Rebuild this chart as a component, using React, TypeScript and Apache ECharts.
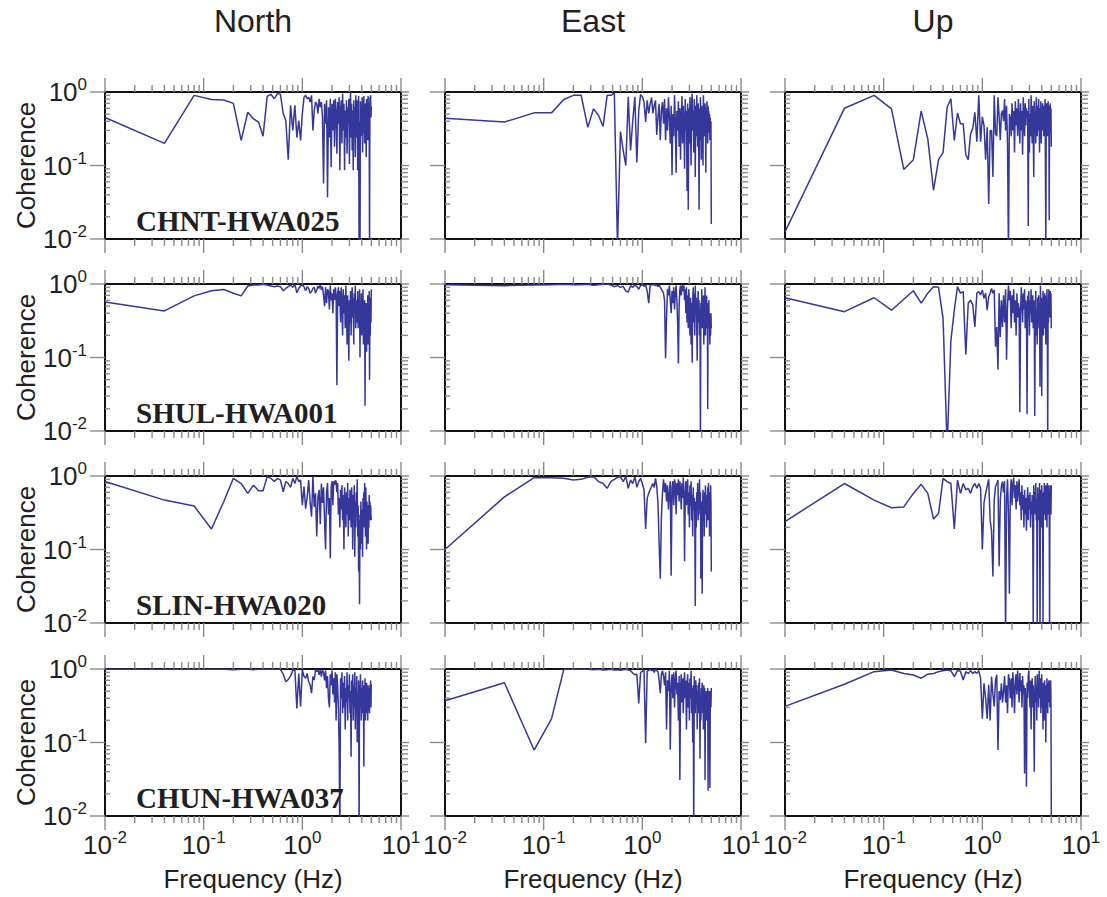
import React, { useEffect, useRef } from "react";
import * as echarts from "echarts";

// Frequencies (Hz) shared by all panels
const FREQ = [
  0.01,
  0.04, 0.08, 0.12, 0.16, 0.2, 0.24, 0.28, 0.32, 0.36, 0.4,
  0.44, 0.48, 0.52, 0.56, 0.6, 0.64, 0.68, 0.72, 0.76, 0.8,
  0.84, 0.88, 0.92, 0.96, 1.0, 1.04, 1.08, 1.12, 1.16, 1.2,
  1.24, 1.28, 1.32, 1.36, 1.4, 1.44, 1.48, 1.52, 1.56, 1.6,
  1.64, 1.68, 1.72, 1.76, 1.8, 1.84, 1.88, 1.92, 1.96, 2.0,
  2.04, 2.08, 2.12, 2.16, 2.2, 2.24, 2.28, 2.32, 2.36, 2.4,
  2.44, 2.48, 2.52, 2.56, 2.6, 2.64, 2.68, 2.72, 2.76, 2.8,
  2.84, 2.88, 2.92, 2.96, 3.0, 3.04, 3.08, 3.12, 3.16, 3.2,
  3.24, 3.28, 3.32, 3.36, 3.4, 3.44, 3.48, 3.52, 3.56, 3.6,
  3.64, 3.68, 3.72, 3.76, 3.8, 3.84, 3.88, 3.92, 3.96, 4.0,
  4.04, 4.08, 4.12, 4.16, 4.2, 4.24, 4.28, 4.32, 4.36, 4.4,
  4.44, 4.48, 4.52, 4.56, 4.6, 4.64, 4.68, 4.72, 4.76, 4.8,
  4.84, 4.88, 4.92, 4.96, 5.0,
];

const CHNT_N = [
  0.45,
  0.2, 0.9, 0.79, 0.78, 0.7, 0.22, 0.53, 0.43, 0.39, 0.25,
  0.87, 0.93, 0.81, 0.95, 0.93, 0.51, 0.41, 0.12, 0.66, 0.3,
  0.66, 0.24, 0.41, 0.22, 0.51, 0.85, 0.9, 0.81, 0.85, 0.73,
  0.9, 0.3, 0.56, 0.73, 0.69, 0.51, 0.81, 0.62, 0.73, 0.46,
  0.057, 0.69, 0.37, 0.77, 0.037, 0.62, 0.24, 0.81, 0.095, 0.69,
  0.3, 0.77, 0.18, 0.81, 0.51, 0.145, 0.73, 0.37, 0.85, 0.086,
  0.56, 0.77, 0.2, 0.95, 0.3, 0.69, 0.086, 0.56, 0.24, 0.77,
  0.145, 0.62, 0.37, 0.81, 0.105, 0.51, 0.98, 0.24, 0.69, 0.16,
  0.56, 0.086, 0.77, 0.3, 0.62, 0.13, 0.9, 0.41, 0.24, 0.77,
  0.086, 0.56, 0.88, 0.006, 0.4, 0.006, 0.75, 0.25, 0.65, 0.3,
  0.85, 0.15, 0.6, 0.28, 0.88, 0.45, 0.2, 0.7, 0.35, 0.55,
  0.13, 0.8, 0.32, 0.6, 0.22, 0.88, 0.42, 0.7, 0.35, 0.006,
  0.85, 0.55, 0.9, 0.45, 0.63,
];
const CHNT_E = [
  0.44,
  0.39, 0.52, 0.52, 0.79, 0.9, 0.9, 0.33, 0.59, 0.48, 0.34,
  0.9, 0.9, 0.97, 0.008, 0.29, 0.16, 0.1, 0.86, 0.16, 0.41,
  0.86, 0.11, 0.56, 0.92, 0.87, 0.73, 0.39, 0.77, 0.51, 0.69,
  0.84, 0.51, 0.66, 0.77, 0.26, 0.46, 0.69, 0.22, 0.56, 0.73,
  0.37, 0.8, 0.22, 0.6, 0.3, 0.85, 0.45, 0.2, 0.65, 0.074,
  0.5, 0.25, 0.9, 0.4, 0.08, 0.55, 0.3, 0.75, 0.18, 0.6,
  0.12, 0.45, 0.88, 0.2, 0.65, 0.35, 0.09, 0.8, 0.3, 0.55,
  0.045, 0.7, 0.025, 0.6, 0.2, 0.85, 0.35, 0.1, 0.75, 0.95,
  0.3, 0.55, 0.15, 0.8, 0.4, 0.07, 0.65, 0.25, 0.9, 0.45,
  0.18, 0.7, 0.3, 0.025, 0.6, 0.22, 0.85, 0.4, 0.12, 0.65,
  0.3, 0.5, 0.1, 0.9, 0.35, 0.55, 0.25, 0.7, 0.4, 0.08,
  0.6, 0.3, 0.75, 0.45, 0.2, 0.65, 0.35, 0.55, 0.28, 0.5,
  0.22, 0.45, 0.3, 0.4, 0.016,
];
const CHNT_U = [
  0.0125,
  0.6, 0.9, 0.59, 0.088, 0.12, 0.55, 0.23, 0.046, 0.12, 0.15,
  0.62, 0.81, 0.22, 0.52, 0.37, 0.37, 0.14, 0.12, 0.27, 0.32,
  0.53, 0.21, 0.9, 0.21, 0.46, 0.35, 0.12, 0.33, 0.03, 0.3,
  0.3, 0.07, 0.9, 0.27, 0.25, 0.85, 0.46, 0.22, 0.51, 0.56,
  0.4, 0.8, 0.3, 0.65, 0.2, 0.006, 0.5, 0.45, 0.25, 0.7,
  0.3, 0.55, 0.15, 0.75, 0.35, 0.6, 0.25, 0.8, 0.4, 0.2,
  0.7, 0.3, 0.55, 0.14, 0.85, 0.45, 0.25, 0.7, 0.35, 0.6,
  0.45, 0.55, 0.015, 0.8, 0.15, 0.5, 0.25, 0.9, 0.4, 0.2,
  0.65, 0.3, 0.07, 0.75, 0.35, 0.55, 0.2, 0.85, 0.45, 0.25,
  0.65, 0.3, 0.8, 0.4, 0.15, 0.6, 0.35, 0.75, 0.2, 0.5,
  0.3, 0.7, 0.5, 0.45, 0.25, 0.65, 0.35, 0.8, 0.1, 0.006,
  0.3, 0.7, 0.4, 0.6, 0.25, 0.75, 0.4, 0.65, 0.018, 0.55,
  0.28, 0.7, 0.4, 0.6, 0.18,
];
const SHUL_N = [
  0.57,
  0.43, 0.69, 0.81, 0.84, 0.75, 0.69, 0.94, 0.97, 0.97, 0.99,
  0.97, 0.94, 0.92, 0.94, 0.92, 0.81, 0.87, 0.92, 0.97, 0.9,
  0.99, 0.76, 0.87, 0.94, 0.97, 0.92, 0.81, 0.92, 0.87, 0.75,
  0.79, 0.87, 0.9, 0.75, 0.83, 0.94, 0.87, 0.97, 0.83, 0.92,
  0.7, 0.5, 0.9, 0.55, 0.85, 0.8, 0.45, 0.95, 0.6, 0.75,
  0.4, 0.85, 0.6, 0.9, 0.7, 0.042, 0.75, 0.9, 0.5, 0.8,
  0.3, 0.9, 0.55, 0.2, 0.85, 0.4, 0.7, 0.25, 0.95, 0.5,
  0.15, 0.7, 0.35, 0.09, 0.6, 0.3, 0.8, 0.2, 0.55, 0.9,
  0.35, 0.65, 0.15, 0.75, 0.45, 0.95, 0.25, 0.6, 0.6, 0.3,
  0.8, 0.25, 0.6, 0.4, 0.85, 0.1, 0.5, 0.3, 0.75, 0.2,
  0.55, 0.35, 0.85, 0.15, 0.45, 0.25, 0.6, 0.022, 0.4, 0.2,
  0.55, 0.12, 0.5, 0.3, 0.7, 0.15, 0.45, 0.25, 0.8, 0.05,
  0.4, 0.2, 0.65, 0.3, 0.85,
];
const SHUL_E = [
  0.98,
  0.95, 0.97, 0.98, 0.99, 0.98, 0.98, 0.99, 0.96, 0.98, 0.99,
  1.0, 0.97, 0.92, 0.95, 0.9, 0.93, 0.8, 0.78, 0.95, 0.9,
  0.97, 0.92, 0.85, 0.95, 0.98, 0.93, 0.97, 0.8, 0.55, 0.95,
  0.98, 0.97, 0.99, 0.95, 0.98, 0.92, 0.97, 0.9, 0.85, 0.8,
  0.75, 0.6, 0.098, 0.35, 0.85, 0.7, 0.95, 0.6, 0.4, 0.8,
  0.55, 0.9, 0.45, 0.75, 0.95, 0.6, 0.3, 0.083, 0.5, 0.85,
  0.95, 0.7, 0.9, 0.98, 0.8, 0.95, 0.6, 0.85, 0.4, 0.9,
  0.3, 0.7, 0.25, 0.85, 0.45, 0.2, 0.65, 0.15, 0.55, 0.085,
  0.6, 0.9, 0.3, 0.75, 0.2, 0.95, 0.4, 0.65, 0.25, 0.09,
  0.5, 0.8, 0.3, 0.6, 0.2, 0.45, 0.006, 0.55, 0.3, 0.85,
  0.25, 0.6, 0.35, 0.7, 0.15, 0.5, 0.4, 0.9, 0.2, 0.6,
  0.3, 0.7, 0.25, 0.55, 0.02, 0.45, 0.3, 0.6, 0.25, 0.4,
  0.15, 0.35, 0.2, 0.4, 0.25,
];
const SHUL_U = [
  0.65,
  0.42, 0.65, 0.44, 0.62, 0.81, 0.55, 0.75, 0.92, 0.9, 0.34,
  0.006, 0.17, 0.44, 0.92, 0.75, 0.79, 0.11, 0.55, 0.6, 0.52,
  0.26, 0.75, 0.79, 0.71, 0.83, 0.64, 0.75, 0.44, 0.67, 0.75,
  0.87, 0.75, 0.83, 0.14, 0.26, 0.068, 0.75, 0.19, 0.6, 0.26,
  0.7, 0.3, 0.85, 0.093, 0.5, 0.95, 0.6, 0.8, 0.25, 0.7,
  0.4, 0.85, 0.3, 0.6, 0.2, 0.75, 0.35, 0.55, 0.45, 0.018,
  0.4, 0.9, 0.55, 0.3, 0.75, 0.45, 0.85, 0.25, 0.6, 0.5,
  0.017, 0.7, 0.35, 0.8, 0.2, 0.6, 0.4, 0.85, 0.3, 0.55,
  0.7, 0.25, 0.6, 0.4, 0.016, 0.5, 0.8, 0.2, 0.45, 0.15,
  0.65, 0.3, 0.7, 0.25, 0.55, 0.04, 0.95, 0.4, 0.65, 0.03,
  0.55, 0.3, 0.8, 0.2, 0.6, 0.35, 0.75, 0.25, 0.55, 0.15,
  0.7, 0.3, 0.85, 0.4, 0.006, 0.6, 0.3, 0.85, 0.45, 0.7,
  0.35, 0.8, 0.5, 0.75, 0.25,
];
const SLIN_N = [
  0.84,
  0.47, 0.39, 0.19, 0.45, 0.93, 0.79, 0.58, 0.75, 0.63, 0.63,
  0.98, 0.93, 0.84, 0.93, 0.88, 0.61, 0.84, 0.79, 0.7, 0.93,
  0.79, 0.98, 0.84, 0.88, 0.4, 0.72, 0.36, 0.52, 0.88, 0.43,
  0.28, 0.98, 0.38, 0.58, 0.15, 0.52, 0.65, 0.22, 0.79, 0.43,
  0.7, 0.25, 0.1, 0.6, 0.8, 0.3, 0.5, 0.076, 0.7, 0.85,
  0.4, 0.85, 0.75, 0.87, 0.85, 0.6, 0.8, 0.3, 0.5, 0.2,
  0.65, 0.35, 0.75, 0.25, 0.55, 0.1, 0.7, 0.4, 0.2, 0.6,
  0.3, 0.8, 0.15, 0.5, 0.25, 0.65, 0.35, 0.2, 0.7, 0.4,
  0.1, 0.55, 0.25, 0.75, 0.08, 0.45, 0.2, 0.6, 0.3, 0.9,
  0.15, 0.4, 0.05, 0.25, 0.018, 0.3, 0.1, 0.45, 0.2, 0.12,
  0.35, 0.08, 0.5, 0.25, 0.6, 0.2, 0.8, 0.4, 0.15, 0.7,
  0.3, 0.1, 0.45, 0.25, 0.35, 0.12, 0.4, 0.2, 0.55, 0.3,
  0.45, 0.25, 0.4, 0.3, 0.25,
];
const SLIN_E = [
  0.1,
  0.52, 0.95, 0.95, 0.93, 0.88, 0.9, 0.96, 0.98, 0.84, 0.79,
  0.68, 0.84, 0.9, 0.96, 0.98, 0.84, 0.98, 0.68, 0.88, 0.79,
  0.98, 0.7, 0.84, 0.93, 0.79, 0.65, 0.19, 0.5, 0.58, 0.65,
  0.72, 0.79, 0.7, 0.93, 0.72, 0.43, 0.12, 0.04, 0.28, 0.58,
  0.9, 0.6, 0.8, 0.45, 0.75, 0.35, 0.6, 0.85, 0.044, 0.7,
  0.85, 0.4, 0.9, 0.75, 0.3, 0.8, 0.55, 0.9, 0.45, 0.85,
  0.65, 0.35, 0.8, 0.5, 0.95, 0.6, 0.069, 0.5, 0.85, 0.4,
  0.7, 0.9, 0.3, 0.6, 0.2, 0.75, 0.4, 0.85, 0.25, 0.55,
  0.15, 0.7, 0.35, 0.5, 0.3, 0.017, 0.45, 0.2, 0.6, 0.35,
  0.8, 0.25, 0.55, 0.4, 0.9, 0.3, 0.6, 0.04, 0.45, 0.2,
  0.025, 0.35, 0.65, 0.25, 0.5, 0.15, 0.6, 0.3, 0.75, 0.35,
  0.55, 0.2, 0.45, 0.3, 0.7, 0.25, 0.8, 0.4, 0.6, 0.15,
  0.5, 0.3, 0.75, 0.45, 0.05,
];
const SLIN_U = [
  0.24,
  0.79, 0.47, 0.37, 0.38, 0.58, 0.77, 0.58, 0.26, 0.31, 0.93,
  0.84, 0.79, 0.19, 0.88, 0.58, 0.79, 0.65, 0.68, 0.58, 0.72,
  0.79, 0.68, 0.79, 0.68, 0.1, 0.43, 0.58, 0.72, 0.9, 0.25,
  0.18, 0.043, 0.47, 0.72, 0.79, 0.88, 0.059, 0.47, 0.72, 0.84,
  0.6, 0.85, 0.006, 0.5, 0.9, 0.3, 0.025, 0.55, 0.9, 0.4,
  0.8, 0.95, 0.5, 0.75, 0.35, 0.85, 0.45, 0.7, 0.9, 0.4,
  0.6, 0.25, 0.75, 0.35, 0.55, 0.2, 0.65, 0.3, 0.5, 0.18,
  0.45, 0.7, 0.25, 0.55, 0.35, 0.6, 0.2, 0.45, 0.3, 0.55,
  0.25, 0.009, 0.75, 0.4, 0.6, 0.3, 0.8, 0.25, 0.5, 0.006,
  0.7, 0.35, 0.55, 0.25, 0.8, 0.006, 0.4, 0.65, 0.2, 0.75,
  0.35, 0.55, 0.01, 0.6, 0.3, 0.8, 0.4, 0.6, 0.25, 0.75,
  0.35, 0.65, 0.2, 0.8, 0.4, 0.55, 0.3, 0.75, 0.45, 0.006,
  0.6, 0.35, 0.75, 0.3, 0.75,
];
const CHUN_N = [
  0.99,
  0.99, 0.99, 0.99, 0.99, 0.98, 0.99, 0.99, 0.98, 0.99, 0.99,
  0.99, 0.99, 0.99, 0.99, 0.99, 0.85, 0.67, 0.72, 0.8, 0.95,
  0.99, 0.29, 0.87, 0.31, 0.97, 0.79, 0.75, 0.87, 0.67, 0.61,
  0.47, 0.79, 0.71, 0.97, 0.92, 0.97, 0.83, 0.97, 0.79, 0.97,
  0.9, 0.7, 0.95, 0.55, 0.8, 0.4, 0.3, 0.85, 0.6, 0.95,
  0.45, 0.75, 0.35, 0.9, 0.2, 0.85, 0.6, 0.3, 0.088, 0.005,
  0.75, 0.4, 0.9, 0.25, 0.65, 0.3, 0.8, 0.15, 0.55, 0.35,
  0.9, 0.2, 0.6, 0.4, 0.85, 0.25, 0.5, 0.064, 0.7, 0.35,
  0.85, 0.2, 0.6, 0.3, 0.9, 0.15, 0.55, 0.35, 0.8, 0.1,
  0.45, 0.25, 0.7, 0.005, 0.6, 0.3, 0.85, 0.4, 0.2, 0.55,
  0.25, 0.7, 0.35, 0.6, 0.047, 0.5, 0.3, 0.75, 0.2, 0.55,
  0.3, 0.65, 0.25, 0.5, 0.2, 0.6, 0.35, 0.55, 0.3, 0.25,
  0.6, 0.35, 0.7, 0.3, 0.62,
];
const CHUN_E = [
  0.37,
  0.65, 0.079, 0.21, 0.99, 0.99, 0.99, 0.99, 0.98, 0.99, 0.97,
  0.98, 0.99, 0.97, 0.98, 0.96, 0.98, 0.99, 0.97, 0.95, 0.88,
  0.84, 0.85, 0.34, 0.9, 0.93, 0.98, 0.098, 0.92, 0.96, 0.99,
  0.95, 0.97, 0.9, 0.99, 0.95, 0.92, 0.7, 0.47, 0.85, 0.95,
  0.8, 0.6, 0.9, 0.15, 0.7, 0.5, 0.95, 0.08, 0.6, 0.85,
  0.4, 0.9, 0.3, 0.75, 0.95, 0.45, 0.65, 0.2, 0.8, 0.031,
  0.55, 0.85, 0.35, 0.75, 0.25, 0.6, 0.9, 0.4, 0.7, 0.15,
  0.55, 0.85, 0.3, 0.65, 0.2, 0.75, 0.4, 0.95, 0.25, 0.55,
  0.1, 0.6, 0.005, 0.8, 0.45, 0.25, 0.7, 0.35, 0.6, 0.15,
  0.5, 0.25, 0.65, 0.4, 0.75, 0.06, 0.45, 0.2, 0.55, 0.3,
  0.65, 0.25, 0.5, 0.15, 0.6, 0.3, 0.55, 0.031, 0.4, 0.25,
  0.5, 0.2, 0.45, 0.3, 0.55, 0.022, 0.4, 0.2, 0.5, 0.3,
  0.024, 0.35, 0.5, 0.3, 0.55,
];
const CHUN_U = [
  0.31,
  0.62, 0.92, 0.97, 0.87, 0.83, 0.75, 0.85, 0.87, 0.92, 0.95,
  0.97, 0.95, 0.79, 0.95, 0.93, 0.71, 0.92, 0.87, 0.95, 0.87,
  0.92, 0.87, 0.95, 0.75, 0.21, 0.64, 0.4, 0.21, 0.61, 0.2,
  0.79, 0.45, 0.31, 0.71, 0.84, 0.079, 0.5, 0.38, 0.64, 0.35,
  0.5, 0.8, 0.35, 0.6, 0.25, 0.85, 0.7, 0.4, 0.75, 0.3,
  0.9, 0.55, 0.25, 0.7, 0.85, 0.45, 0.95, 0.6, 0.35, 0.88,
  0.5, 0.7, 0.3, 0.8, 0.45, 0.6, 0.038, 0.55, 0.3, 0.025,
  0.65, 0.4, 0.8, 0.95, 0.55, 0.3, 0.7, 0.15, 0.5, 0.75,
  0.3, 0.6, 0.25, 0.04, 0.45, 0.8, 0.35, 0.6, 0.2, 0.85,
  0.5, 0.7, 0.3, 0.95, 0.55, 0.4, 0.75, 0.25, 0.6, 0.85,
  0.3, 0.55, 0.15, 0.65, 0.4, 0.2, 0.7, 0.35, 0.55, 0.1,
  0.6, 0.3, 0.75, 0.45, 0.25, 0.65, 0.35, 0.7, 0.4, 0.6,
  0.3, 0.65, 0.7, 0.4, 0.01,
];

const STATIONS = ["CHNT-HWA025", "SHUL-HWA001", "SLIN-HWA020", "CHUN-HWA037"];
const COMPONENTS = ["North", "East", "Up"];
const PANELS = [
  [CHNT_N, CHNT_E, CHNT_U],
  [SHUL_N, SHUL_E, SHUL_U],
  [SLIN_N, SLIN_E, SLIN_U],
  [CHUN_N, CHUN_E, CHUN_U],
];
const X_MIN = 0.01;
const X_MAX = 10;
const Y_MIN = 0.01;
const Y_MAX = 1;

// layout
const GRID_LEFT = [105, 445, 785];
const GRID_TOP = [92, 284, 476, 669];
const GRID_W = 296;
const GRID_H = 147;

const SANS = '"Liberation Sans", Arial, Helvetica, sans-serif';
const SERIF = '"Liberation Serif", "Times New Roman", serif';
const TEXT = "#231f20";
const LINE = "#35389a";
const TICK = "#8a8a8a";

const powLabel = (v: number) => {
  const e = Math.round(Math.log10(v));
  return `{b|10}{s|${e}}`;
};
const rich = {
  b: { fontSize: 26, fontFamily: SANS, color: TEXT, lineHeight: 32 },
  s: { fontSize: 17, fontFamily: SANS, color: TEXT, lineHeight: 17, verticalAlign: "top" },
};

function tickRender(params: any, api: any) {
  const tl = api.coord([X_MIN, Y_MAX]);
  const br = api.coord([X_MAX, Y_MIN]);
  const children: any[] = [];
  const ln = (x1: number, y1: number, x2: number, y2: number) =>
    children.push({
      type: "line",
      shape: { x1, y1, x2, y2 },
      style: { stroke: TICK, lineWidth: 1.4 },
    });
  for (let e = -2; e <= 1; e++) {
    for (let m = 1; m <= 9; m++) {
      const v = m * Math.pow(10, e);
      if (v > X_MAX * 1.0001) break;
      const x = api.coord([v, Y_MAX])[0];
      const len = m === 1 ? 14 : 7;
      ln(x, br[1], x, br[1] + len);
      ln(x, tl[1], x, tl[1] - len);
    }
  }
  for (let e = -2; e <= 0; e++) {
    for (let m = 1; m <= 9; m++) {
      const v = m * Math.pow(10, e);
      if (v > Y_MAX * 1.0001) break;
      const y = api.coord([X_MIN, v])[1];
      if (m === 1) {
        ln(tl[0] - 15, y, tl[0], y);
        ln(br[0], y, br[0] + 8, y);
      } else {
        ln(tl[0], y, tl[0] + 5, y);
        ln(br[0], y, br[0] + 7, y);
      }
    }
  }
  return { type: "group", children };
}

export default function App() {
  const ref = useRef<HTMLDivElement>(null);
  useEffect(() => {
    if (!ref.current) return;
    const chart = echarts.init(ref.current, undefined, { renderer: "svg" });
    const grid: any[] = [];
    const xAxis: any[] = [];
    const yAxis: any[] = [];
    const series: any[] = [];
    const graphic: any[] = [];

    PANELS.forEach((row, r) => {
      row.forEach((vals, c) => {
        const idx = r * 3 + c;
        grid.push({
          left: GRID_LEFT[c],
          top: GRID_TOP[r],
          width: GRID_W,
          height: GRID_H,
          show: true,
          borderColor: "#111",
          borderWidth: 2,
          backgroundColor: "transparent",
        });
        xAxis.push({
          gridIndex: idx,
          type: "log",
          logBase: 10,
          min: X_MIN,
          max: X_MAX,
          axisLine: { show: false },
          axisTick: { show: false },
          splitLine: { show: false },
          axisLabel: {
            show: r === 3,
            margin: 13,
            formatter: powLabel,
            rich,
            showMinLabel: true,
            showMaxLabel: true,
          },
        });
        yAxis.push({
          gridIndex: idx,
          type: "log",
          logBase: 10,
          min: Y_MIN,
          max: Y_MAX,
          axisLine: { show: false },
          axisTick: { show: false },
          splitLine: { show: false },
          axisLabel: {
            show: c === 0,
            margin: 18,
            formatter: powLabel,
            rich,
            showMinLabel: true,
            showMaxLabel: true,
          },
        });
        series.push({
          type: "line",
          xAxisIndex: idx,
          yAxisIndex: idx,
          data: FREQ.map((f, i) => [f, vals[i]]),
          showSymbol: false,
          symbol: "none",
          clip: true,
          silent: true,
          lineStyle: { color: LINE, width: 1.5 },
          z: 3,
        });
        series.push({
          type: "custom",
          xAxisIndex: idx,
          yAxisIndex: idx,
          data: [[1, 0.1]],
          renderItem: tickRender,
          clip: false,
          silent: true,
          z: 2,
        });
      });
    });

    COMPONENTS.forEach((name, c) => {
      const cx = GRID_LEFT[c] + GRID_W / 2;
      graphic.push({
        type: "text",
        x: cx,
        y: 21,
        style: {
          text: name,
          font: `32px ${SANS}`,
          fill: TEXT,
          textAlign: "center",
          align: "center",
          textVerticalAlign: "middle",
          verticalAlign: "middle",
        },
      });
      graphic.push({
        type: "text",
        x: cx,
        y: 879,
        style: {
          text: "Frequency (Hz)",
          font: `26px ${SANS}`,
          fill: TEXT,
          textAlign: "center",
          align: "center",
          textVerticalAlign: "middle",
          verticalAlign: "middle",
        },
      });
    });
    STATIONS.forEach((st, r) => {
      graphic.push({
        type: "text",
        x: 26,
        y: GRID_TOP[r] + GRID_H / 2,
        rotation: Math.PI / 2,
        style: {
          text: "Coherence",
          font: `26px ${SANS}`,
          fill: TEXT,
          textAlign: "center",
          align: "center",
          textVerticalAlign: "middle",
          verticalAlign: "middle",
        },
      });
      graphic.push({
        type: "text",
        x: 136,
        y: GRID_TOP[r] + GRID_H - 4,
        style: {
          text: st,
          font: `bold 29px ${SERIF}`,
          fill: TEXT,
          textAlign: "left",
          align: "left",
          textVerticalAlign: "bottom",
          verticalAlign: "bottom",
        },
        z: 10,
      });
    });

    chart.setOption({
      animation: false,
      backgroundColor: "#ffffff",
      grid,
      xAxis,
      yAxis,
      series,
      graphic,
    });
    return () => chart.dispose();
  }, []);
  return (
    <div
      ref={ref}
      style={{ position: "absolute", left: 0, top: 0, width: 1107, height: 897 }}
    />
  );
}
